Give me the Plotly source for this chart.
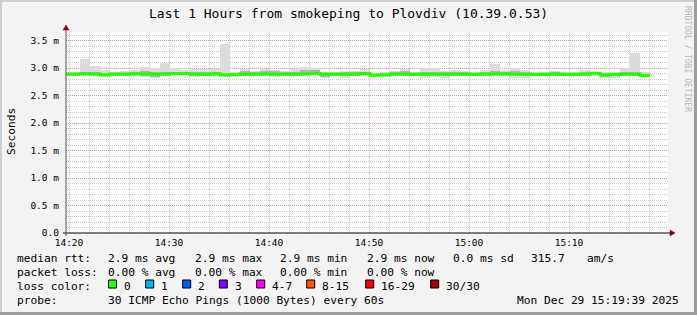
import plotly.graph_objects as go
import pandas as pd

# ---------------- data (ms) ----------------
start_time = "2025-12-29 14:19:36"   # centre of first (partial) minute step
n_steps = 59

median_ms = [2.89, 2.89, 2.895, 2.89, 2.875, 2.89, 2.89, 2.895, 2.895, 2.89, 2.89,
             2.90, 2.90, 2.89, 2.885, 2.895, 2.875, 2.88, 2.89, 2.89, 2.89,
             2.89, 2.89, 2.89, 2.895, 2.905, 2.89, 2.89, 2.89, 2.89, 2.90,
             2.87, 2.875, 2.89, 2.89, 2.885, 2.89, 2.89, 2.89, 2.89, 2.89,
             2.885, 2.89, 2.895, 2.895, 2.89, 2.885, 2.88, 2.885, 2.89, 2.885,
             2.885, 2.89, 2.905, 2.875, 2.88, 2.89, 2.89, 2.865]

smoke_hi = [2.92, 2.92, 3.16, 3.04, 2.96, 2.93, 2.945, 2.96, 3.01, 3.00, 3.10,
            3.00, 2.965, 2.99, 2.99, 2.99, 3.44, 2.925, 2.99, 2.945, 2.975,
            2.965, 2.945, 2.975, 3.01, 2.995, 2.935, 2.935, 2.945, 2.945, 2.975,
            2.90, 2.935, 2.945, 2.975, 2.935, 2.995, 2.995, 2.945, 2.965, 2.945,
            2.92, 2.965, 3.07, 2.965, 2.995, 2.965, 2.92, 2.935, 2.945, 2.92,
            2.92, 2.965, 2.935, 2.92, 2.92, 2.995, 3.28, 2.935]

smoke_lo = [2.86, 2.86, 2.87, 2.855, 2.85, 2.86, 2.86, 2.86, 2.83, 2.815, 2.86,
            2.865, 2.865, 2.845, 2.86, 2.86, 2.855, 2.86, 2.86, 2.86, 2.855,
            2.84, 2.86, 2.86, 2.86, 2.865, 2.825, 2.855, 2.825, 2.86, 2.865,
            2.85, 2.85, 2.86, 2.86, 2.86, 2.825, 2.84, 2.825, 2.86, 2.86,
            2.855, 2.855, 2.86, 2.86, 2.825, 2.825, 2.85, 2.855, 2.86, 2.855,
            2.86, 2.86, 2.86, 2.825, 2.825, 2.86, 2.86, 2.84]

smoke_mid_hi = [2.91, 2.91, 2.93, 2.92, 2.90, 2.91, 2.91, 2.92, 2.95, 2.93, 2.93,
                2.92, 2.92, 2.92, 2.93, 2.93, 2.90, 2.91, 2.94, 2.92, 2.95,
                2.94, 2.92, 2.93, 2.96, 2.97, 2.91, 2.91, 2.92, 2.92, 2.93,
                2.88, 2.90, 2.92, 2.94, 2.91, 2.93, 2.92, 2.92, 2.93, 2.92,
                2.90, 2.92, 2.94, 2.93, 2.95, 2.93, 2.90, 2.91, 2.92, 2.91,
                2.91, 2.92, 2.93, 2.90, 2.90, 2.93, 2.92, 2.89]

smoke_mid_lo = [2.87, 2.87, 2.875, 2.865, 2.86, 2.87, 2.87, 2.87, 2.85, 2.845, 2.87,
                2.875, 2.875, 2.86, 2.865, 2.87, 2.86, 2.865, 2.87, 2.87, 2.87,
                2.855, 2.87, 2.87, 2.87, 2.88, 2.845, 2.865, 2.85, 2.87, 2.875,
                2.86, 2.86, 2.87, 2.87, 2.865, 2.85, 2.855, 2.85, 2.87, 2.87,
                2.865, 2.87, 2.87, 2.875, 2.85, 2.85, 2.86, 2.865, 2.87, 2.865,
                2.87, 2.87, 2.885, 2.845, 2.85, 2.87, 2.87, 2.85]

y_tick_vals = [0.0, 0.5, 1.0, 1.5, 2.0, 2.5, 3.0, 3.5]
y_tick_text = ["0.0", "0.5 m", "1.0 m", "1.5 m", "2.0 m", "2.5 m", "3.0 m", "3.5 m"]

title_text = "Last 1 Hours from smokeping to Plovdiv (10.39.0.53)"
rtt_stats = ["2.9 ms avg", "2.9 ms max", "2.9 ms min", "2.9 ms now", "0.0 ms sd", "315.7", "am/s"]
loss_stats = ["0.00 % avg", "0.00 % max", "0.00 % min", "0.00 % now"]
loss_labels = ["0", "1", "2", "3", "4-7", "8-15", "16-29", "30/30"]
loss_colors = ["#26ff00", "#00b8ff", "#0059ff", "#7e00ff", "#ff00ff", "#ff5500", "#ff0000", "#a10000"]
probe_text = "30 ICMP Echo Pings (1000 Bytes) every 60s"
date_text = "Mon Dec 29 15:19:39 2025"

# ---------------- layout geometry (pixels) ----------------
W, H = 697, 315
L, R, T, B = 66, 668, 32, 233
MONO = "DejaVu Sans Mono"


def px(x):
    return (x - L) / (R - L)


def py(y):
    return (B - y) / (B - T)


times = pd.date_range(start_time, periods=n_steps, freq="60s")
half = pd.Timedelta(seconds=30)
edges = list(times - half) + [times[-1] + half]

fig = go.Figure()
fig.add_trace(go.Bar(x=times, y=[h - l for h, l in zip(smoke_hi, smoke_lo)], base=smoke_lo,
                     width=60000, marker=dict(color="#dcdcdc", line_width=0),
                     hoverinfo="skip", showlegend=False))
fig.add_trace(go.Bar(x=times, y=[h - l for h, l in zip(smoke_mid_hi, smoke_mid_lo)], base=smoke_mid_lo,
                     width=60000, marker=dict(color="#b4b4b4", line_width=0),
                     hoverinfo="skip", showlegend=False))
fig.add_trace(go.Scatter(x=edges, y=median_ms + [median_ms[-1]], mode="lines",
                         line=dict(color="#26ff00", width=3.2, shape="hv"),
                         hoverinfo="skip", showlegend=False))

x_start = pd.Timestamp("2025-12-29 14:19:42")
x_end = pd.Timestamp("2025-12-29 15:19:54")

MAJ = "rgba(240,110,110,0.55)"
MIN = "#cccccc"

fig.update_layout(
    width=W, height=H, autosize=False,
    margin=dict(l=L, r=W - R, t=T, b=H - B, pad=0),
    paper_bgcolor="#f3f3f3", plot_bgcolor="#ffffff",
    barmode="overlay", bargap=0, showlegend=False,
    font=dict(family=MONO, color="#000000"),
)

fig.update_xaxes(
    type="date", range=[x_start, x_end],
    tick0="2025-12-29 14:20:00", dtick=600000, tickformat="%H:%M",
    tickfont=dict(family=MONO, size=9.5, color="#000000"),
    showgrid=True, gridcolor=MAJ, griddash="1px,1px", gridwidth=1,
    minor=dict(dtick=120000, showgrid=True, gridcolor=MIN, griddash="1px,1px", gridwidth=1),
    showline=False, zeroline=False, ticks="", ticklabelstandoff=2, fixedrange=True,
)
fig.update_yaxes(
    range=[0, 3.655], tickvals=y_tick_vals, ticktext=y_tick_text,
    tickfont=dict(family=MONO, size=9.5, color="#000000"),
    showgrid=True, gridcolor=MAJ, griddash="1px,1px", gridwidth=1,
    minor=dict(dtick=0.1, tick0=0, showgrid=True, gridcolor=MIN, griddash="1px,1px", gridwidth=1),
    showline=False, zeroline=False, ticks="", ticklabelstandoff=6, fixedrange=True,
)

shapes = []
# axes lines + arrows
shapes.append(dict(type="line", xref="paper", yref="paper", x0=px(63), x1=px(670), y0=py(B), y1=py(B),
                   line=dict(color="#000000", width=1)))
shapes.append(dict(type="path", xref="paper", yref="paper",
                   path=f"M {px(670)} {py(B-3)} L {px(675)} {py(B)} L {px(670)} {py(B+3)} Z",
                   fillcolor="#8b0000", line=dict(color="#8b0000", width=0.5)))
shapes.append(dict(type="line", xref="paper", yref="paper", x0=px(L), x1=px(L), y0=py(236), y1=py(30),
                   line=dict(color="#555555", width=1)))
shapes.append(dict(type="path", xref="paper", yref="paper",
                   path=f"M {px(L-3)} {py(30)} L {px(L)} {py(25)} L {px(L+3)} {py(30)} Z",
                   fillcolor="#8b0000", line=dict(color="#8b0000", width=0.5)))
# figure border (3D look)
shapes.append(dict(type="rect", xref="paper", yref="paper", x0=px(0), x1=px(W), y0=py(0), y1=py(2),
                   fillcolor="#cfcfcf", line_width=0))
shapes.append(dict(type="rect", xref="paper", yref="paper", x0=px(0), x1=px(2), y0=py(0), y1=py(H),
                   fillcolor="#cfcfcf", line_width=0))
shapes.append(dict(type="rect", xref="paper", yref="paper", x0=px(W - 3), x1=px(W), y0=py(0), y1=py(H),
                   fillcolor="#9c9c9c", line_width=0))
shapes.append(dict(type="rect", xref="paper", yref="paper", x0=px(0), x1=px(W), y0=py(H - 3), y1=py(H),
                   fillcolor="#9c9c9c", line_width=0))

annotations = []


def txt(x, y, s, size=11.2, anchor="left", color="#000", angle=0):
    annotations.append(dict(xref="paper", yref="paper", x=px(x), y=py(y), text=s, showarrow=False,
                            xanchor=anchor, yanchor="middle", textangle=angle,
                            font=dict(family=MONO, size=size, color=color), borderpad=0))


txt(W / 2, 13, title_text, size=13, anchor="center")
txt(11, 132, "Seconds", size=11.2, anchor="center", angle=-90)
txt(688, 59, "RRDTOOL / TOBI OETIKER", size=8, anchor="center", color="#b8b8b8", angle=90)

row_y = [258.5, 272.5, 286.5, 300.5]
txt(16, row_y[0], "median rtt:")
for x, s in zip([107.3, 194, 279.3, 366, 451.7, 530, 586], rtt_stats):
    txt(x, row_y[0], s)
txt(16, row_y[1], "packet loss:")
for x, s in zip([107.3, 194, 279.3, 366], loss_stats):
    txt(x, row_y[1], s)
txt(16, row_y[2], "loss color:")
box_x = [108.5, 145.7, 182.7, 219.3, 256.7, 306.7, 365.7, 430.7]
for bx, lab, col in zip(box_x, loss_labels, loss_colors):
    shapes.append(dict(type="rect", xref="paper", yref="paper", x0=px(bx), x1=px(bx + 8),
                       y0=py(280), y1=py(288), fillcolor=col, line=dict(color="#000", width=1)))
    txt(bx + 14.5, row_y[2], lab)
txt(16, row_y[3], "probe:")
txt(107.3, row_y[3], probe_text)
txt(680, row_y[3], date_text, anchor="right")

fig.update_layout(shapes=shapes, annotations=annotations)
fig.write_html("out.html")
